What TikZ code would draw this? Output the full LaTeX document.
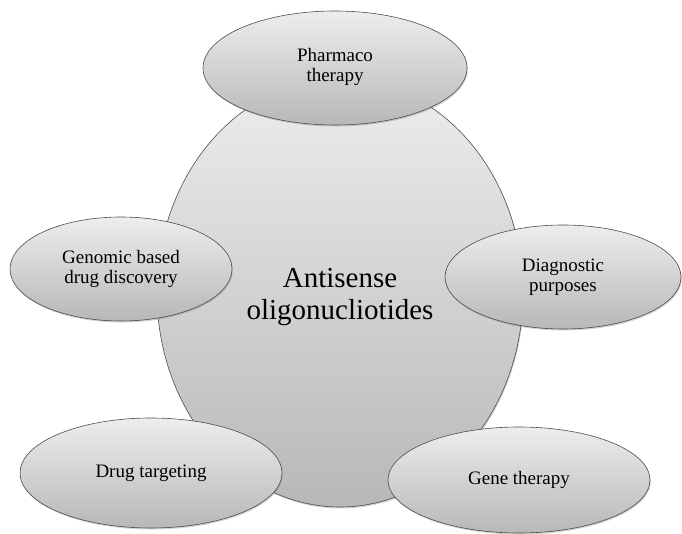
\documentclass[tikz,border=0pt]{standalone}
\usepackage{fontspec}
\setmainfont{Liberation Serif}
\usetikzlibrary{shapes.geometric}
\usetikzlibrary{shadows}

\begin{document}
\begin{tikzpicture}[x=1pt,y=-1pt,
    blob/.style={ellipse,draw=black!70,line width=0.6pt,inner sep=0pt,
      top color=black!7,bottom color=black!28,align=center,
      drop shadow={shadow xshift=0.8pt,shadow yshift=-1.5pt,opacity=0.35}},
    hub/.style={blob,minimum width=366pt,minimum height=428pt,
      font=\fontsize{29}{32}\selectfont},
    leaf/.style={blob,font=\fontsize{19}{20}\selectfont}]
    \useasboundingbox (0,0) rectangle (682,534);
    \node[hub] (aso) at (340,293) {};
    \node (asotext) at (340,297) [font=\fontsize{29}{32}\selectfont,align=center] {Antisense\\oligonucliotides};
    \node[leaf,minimum width=264pt,minimum height=114pt] (pharma) at (335,68) {\raisebox{-5pt}{\begin{tabular}{@{}c@{}}Pharmaco\\therapy\end{tabular}}};
    \node[leaf,minimum width=222pt,minimum height=104pt] (genomic) at (121,269) {Genomic based\\drug discovery};
    \node[leaf,minimum width=236pt,minimum height=104pt] (diag) at (563,277) {Diagnostic\\purposes};
    \node[leaf,minimum width=262pt,minimum height=110pt] (target) at (151,473) {Drug targeting};
    \node[leaf,minimum width=262pt,minimum height=106pt] (gene) at (519,480) {Gene therapy};
  \end{tikzpicture}
\end{document}
